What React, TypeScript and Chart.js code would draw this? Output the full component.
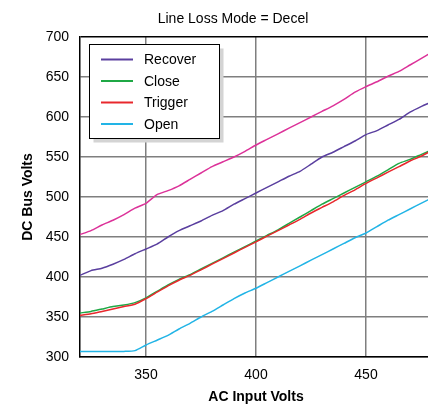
import React, { useEffect, useRef } from 'react';
import { Chart, registerables } from 'chart.js';

Chart.register(...registerables);

const chartTitle = 'Line Loss Mode = Decel';
const xAxisTitle = 'AC Input Volts';
const yAxisTitle = 'DC Bus Volts';

// AC input voltage sweep (x values)
const acVolts = [
  320, 325, 330, 335, 340, 345, 350, 355, 360, 365, 370, 375, 380, 385, 390, 395, 400,
  405, 410, 415, 420, 425, 430, 435, 440, 445, 450, 455, 460, 465, 470, 475, 480,
];

// DC bus voltage per threshold
const upperBus = [
  453, 458, 465, 471, 478, 486, 492, 503, 508, 514, 522, 530, 538, 544, 550, 557, 565,
  572, 579, 586, 593, 600, 607, 614, 622, 631, 638, 644, 651, 657, 665, 673, 681,
];
const recoverBus = [
  402, 408, 411, 416, 422, 429, 435, 441, 450, 458, 464, 470, 477, 483, 491, 498, 505,
  512, 519, 526, 532, 541, 550, 556, 563, 570, 578, 583, 590, 597, 606, 613, 619,
];
const closeBus = [
  355, 357, 360, 363, 365, 368, 374, 382, 390, 397, 403, 410, 417, 424, 431, 438, 445,
  452, 459, 467, 475, 483, 491, 498, 505, 512, 519, 526, 534, 542, 547, 553, 559,
];
const triggerBus = [
  352, 354, 357, 360, 363, 366, 373, 381, 389, 396, 402, 409, 416, 423, 430, 437, 444,
  451, 458, 465, 472, 480, 487, 494, 502, 509, 517, 524, 531, 538, 545, 551, 558,
];
const openBus = [
  307, 307, 307, 307, 307, 308, 315, 321, 327, 335, 342, 350, 357, 365, 373, 380, 386,
  393, 400, 407, 414, 421, 428, 435, 442, 449, 455, 463, 471, 478, 485, 492, 499,
];

const xTickValues = [350, 400, 450];
const yMin = 300;
const yMax = 700;
const yStep = 50;

const FONT = "'Liberation Sans', Arial, Helvetica, sans-serif";

type Series = { label: string; values: number[]; color: string; inLegend: boolean; order: number };

const series: Series[] = [
  { label: 'Upper', values: upperBus, color: '#dc3299', inLegend: false, order: 4 },
  { label: 'Recover', values: recoverBus, color: '#5a3f9f', inLegend: true, order: 3 },
  { label: 'Close', values: closeBus, color: '#1fa845', inLegend: true, order: 1 },
  { label: 'Trigger', values: triggerBus, color: '#e8282d', inLegend: true, order: 0 },
  { label: 'Open', values: openBus, color: '#22b4e6', inLegend: true, order: 2 },
];

// Title text and the boxed legend with its drop shadow
const overlayPlugin = {
  id: 'overlay',
  afterDraw(chart: Chart) {
    const ctx = chart.ctx;
    ctx.save();
    ctx.fillStyle = '#000';
    ctx.font = `14px ${FONT}`;
    ctx.textAlign = 'center';
    ctx.textBaseline = 'alphabetic';
    ctx.fillText(chartTitle, 233, 23);

    const bx = 89.5;
    const by = 44.5;
    const bw = 130;
    const bh = 94;
    ctx.fillStyle = '#d4d4d4';
    ctx.fillRect(bx + 4, by + 4, bw, bh);
    ctx.fillStyle = '#fff';
    ctx.fillRect(bx, by, bw, bh);
    ctx.strokeStyle = '#000';
    ctx.lineWidth = 1;
    ctx.strokeRect(bx, by, bw, bh);

    const entries = series.filter((s) => s.inLegend);
    ctx.textAlign = 'left';
    ctx.textBaseline = 'middle';
    entries.forEach((s, i) => {
      const y = 59.5 + i * 21.5;
      ctx.strokeStyle = s.color;
      ctx.lineWidth = 2;
      ctx.beginPath();
      ctx.moveTo(101, y);
      ctx.lineTo(133, y);
      ctx.stroke();
      ctx.fillStyle = '#000';
      ctx.fillText(s.label, 144, y + 1);
    });
    ctx.restore();
  },
};

export default function App() {
  const canvasRef = useRef<HTMLCanvasElement>(null);

  useEffect(() => {
    const canvas = canvasRef.current;
    if (!canvas) return;
    const chart = new Chart(canvas, {
      type: 'line',
      data: {
        datasets: series.map((s) => ({
          label: s.label,
          data: acVolts.map((x, i) => ({ x, y: s.values[i] })),
          borderColor: s.color,
          backgroundColor: s.color,
          borderWidth: 1.5,
          pointRadius: 0,
          tension: 0.2,
          fill: false,
          order: s.order,
        })),
      },
      options: {
        responsive: false,
        animation: false,
        devicePixelRatio: 1,
        layout: { padding: { top: 37, left: 0, right: 0, bottom: 0 } },
        plugins: {
          legend: { display: false },
          title: { display: false },
          tooltip: { enabled: false },
        },
        scales: {
          x: {
            type: 'linear',
            min: 320,
            max: 480,
            afterBuildTicks: (scale: any) => {
              scale.ticks = xTickValues.map((value) => ({ value }));
            },
            afterFit: (scale: any) => {
              scale.height = 53;
            },
            grid: { color: '#7f7f7f', lineWidth: 1.5, drawTicks: false },
            border: { color: '#000', width: 1.5 },
            ticks: { padding: 10, color: '#000', font: { family: FONT, size: 14 } },
            title: {
              display: true,
              text: xAxisTitle,
              color: '#000',
              font: { family: FONT, size: 14, weight: 'bold' },
              padding: { top: 0, bottom: 4 },
            },
          },
          y: {
            type: 'linear',
            min: yMin,
            max: yMax,
            afterFit: (scale: any) => {
              scale.width = 80;
            },
            grid: {
              color: (ctx: any) => (ctx.tick && ctx.tick.value === yMax ? '#000' : '#7f7f7f'),
              lineWidth: 1.5,
              drawTicks: false,
            },
            border: { color: '#000', width: 1.5 },
            ticks: { stepSize: yStep, padding: 11, color: '#000', font: { family: FONT, size: 14 } },
            title: {
              display: true,
              text: yAxisTitle,
              color: '#000',
              font: { family: FONT, size: 14, weight: 'bold' },
              padding: { top: 20, bottom: 0 },
            },
          },
        },
      },
      plugins: [overlayPlugin],
    });
    return () => chart.destroy();
  }, []);

  return (
    <div
      style={{
        position: 'absolute',
        left: 0,
        top: 0,
        width: 428,
        height: 410,
        overflow: 'hidden',
        background: '#fff',
      }}
    >
      <canvas ref={canvasRef} width={432} height={410} style={{ display: 'block', width: 432, height: 410 }} />
    </div>
  );
}
